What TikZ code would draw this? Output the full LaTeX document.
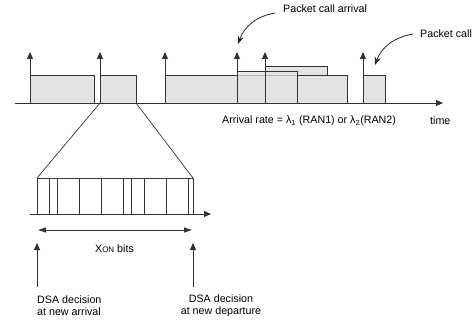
\documentclass[tikz,border=0pt]{standalone}
\usepackage{fontspec}
\setmainfont{Liberation Sans}
\usetikzlibrary{arrows.meta}
\begin{document}
\begin{tikzpicture}[x=1pt,y=-1pt,
    ln/.style={draw=black!80,line width=0.9pt},
    bar/.style={ln,fill=black!11},
    uparrow/.style={ln,-{Triangle[length=7pt,width=6pt]}},
    callout/.style={draw=black!85,line width=0.8pt,-{Stealth[length=8pt,width=6pt]}},
    lbl/.style={font=\fontsize{10.7}{12}\selectfont,inner sep=0pt}]
    \useasboundingbox (0,0) rectangle (476,323);
    % packet calls on the time axis
    \draw[bar] (30,75) rectangle (94,103);
    \draw[bar] (100,75) rectangle (136,103);
    \draw[bar] (265,66) rectangle (327,75);
    \draw[bar] (165,75) rectangle (347,103);
    \draw[ln] (265,103) -- (265,66);
    \draw[ln,fill=black!11,fill opacity=0.75] (237,71) rectangle (297,103);
    \draw[bar] (363,75) rectangle (385,103);
    \foreach \t in {30,100,165,237,265,363}
        \draw[uparrow] (\t,103) -- (\t,52);
    \coordinate (t0) at (15,103);
    \coordinate (t1) at (443,103);
    \draw[uparrow] (t0) -- (t1);
    % zoom into one packet call
    \coordinate (zl) at (100,103);
    \coordinate (zr) at (136,103);
    \coordinate (bl) at (37,178);
    \coordinate (br) at (193,178);
    \draw[ln,line width=0.7pt] (zl) -- (bl);
    \draw[ln,line width=0.7pt] (zr) -- (br);
    \draw[ln,fill=white] (bl) rectangle (193,214);
    \foreach \s in {49,57,79,101,123,131,144,166,188}
        \draw[ln,line width=0.7pt] (\s,178) -- (\s,214);
    \coordinate (b0) at (30,214);
    \coordinate (b1) at (211,214);
    \draw[uparrow] (b0) -- (b1);
    \coordinate (x0) at (38,230);
    \coordinate (x1) at (192,230);
    \draw[ln,{Triangle[length=8pt,width=5pt]}-{Triangle[length=8pt,width=5pt]}] (x0) -- (x1);
    \node[lbl] (xon) at (114.5,249) {X{\fontsize{8}{8}\selectfont ON} bits};
    % decision points
    \node[lbl,anchor=west,align=left] (dsaA) at (37,306) {DSA decision\\at new arrival};
    \node[lbl,align=center] (dsaD) at (221,306) {DSA decision\\at new departure};
    \draw[uparrow] (37,287) -- (37,243);
    \draw[uparrow] (193,287) -- (193,243);
    % labels
    \node[lbl,anchor=west] (pca) at (283,9) {Packet call arrival};
    \node[lbl,anchor=west] (pc) at (420,34) {Packet call};
    \coordinate (pcaTip) at (238,44);
    \coordinate (pcTip) at (375,65);
    \draw[callout] ([shift={(-8,4)}]pca.west) to[out=190,in=70] (pcaTip);
    \draw[callout] ([shift={(-7,0)}]pc.west) to[out=190,in=70] (pcTip);
    \node[lbl,anchor=west] (rate) at (222,121) {Arrival rate = λ\textsubscript{1} (RAN1) or λ\textsubscript{2}(RAN2)};
    \node[lbl,anchor=west] (time) at (430,121) {time};
\end{tikzpicture}
\end{document}
